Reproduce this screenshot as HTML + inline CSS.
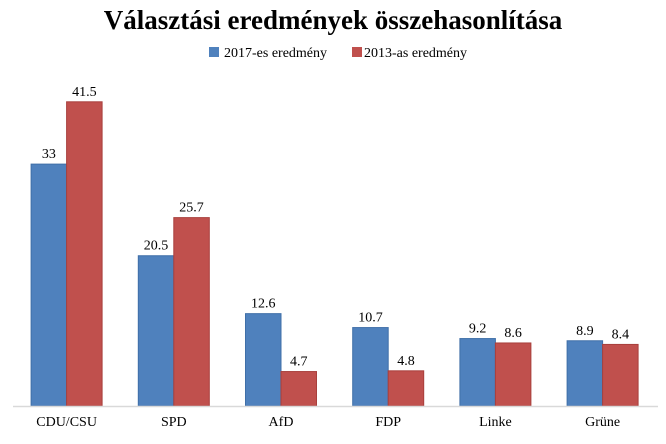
<!DOCTYPE html>
<html><head><meta charset="utf-8"><style>
body{margin:0;background:#fff;width:666px;height:439px;overflow:hidden}
text{font-family:"Liberation Serif",serif}
</style></head><body>
<svg width="666" height="439">
<text x="333" y="29" text-anchor="middle" font-size="27" font-weight="bold" fill="#000">Választási eredmények összehasonlítása</text>
<g>
<rect x="209" y="47" width="10" height="10" fill="#4f81bd"/>
<text x="224" y="57" font-size="14">2017-es eredmény</text>
<rect x="352" y="47" width="10" height="10" fill="#c0504d"/>
<text x="364" y="57" font-size="14">2013-as eredmény</text>
</g>
<g id="plot"></g>
<line x1="13" y1="406.5" x2="658" y2="406.5" stroke="#d9d9d9" stroke-width="1.5"/>
</svg>
<script>
const categories=["CDU/CSU","SPD","AfD","FDP","Linke","Grüne"];
const values2017=[33,20.5,12.6,10.7,9.2,8.9];
const values2013=[41.5,25.7,4.7,4.8,8.6,8.4];
const x0=13,groupW=107.2,baseY=406,pxPerUnit=7.33,barW=35.5;
const y=v=>baseY-v*pxPerUnit;
const cx=i=>x0+groupW*(i+0.5);
const g=document.getElementById('plot');
const NS="http://www.w3.org/2000/svg";
function mk(t,a){const e=document.createElementNS(NS,t);for(const k in a)e.setAttribute(k,a[k]);g.appendChild(e);return e;}
categories.forEach((c,i)=>{
  [[values2017,"#4f81bd","#3f6fa8",-barW,"2017"],[values2013,"#c0504d","#a83f3c",0,"2013"]].forEach(([arr,col,st,off,yr])=>{
    const v=arr[i];
    const r=mk('rect',{x:cx(i)+off,y:y(v),width:barW,height:v*pxPerUnit,fill:col,stroke:st,'stroke-width':1});
    
    
    const t=mk('text',{x:cx(i)+off+barW/2,y:y(v)-6,'text-anchor':'middle','font-size':14});
    t.textContent=v;
    
    
  });
  const l=mk('text',{x:cx(i),y:426,'text-anchor':'middle','font-size':14});
  l.textContent=c;
  
  
});
</script>
</body></html>
